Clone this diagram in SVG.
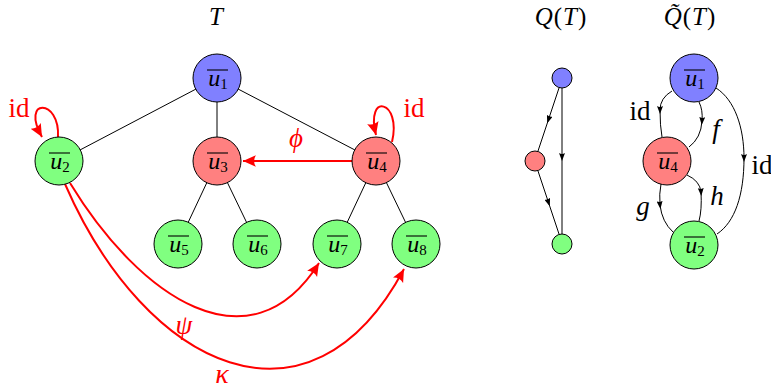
<svg xmlns="http://www.w3.org/2000/svg" width="771" height="391" viewBox="0 0 771 391" font-family="'Liberation Serif', 'DejaVu Serif', serif">
<style>
.ov{stroke:#000;stroke-width:1.1;}
.blue{fill:#8080ff;stroke:#000;stroke-width:1;}
.red{fill:#ff8080;stroke:#000;stroke-width:1;}
.green{fill:#80ff80;stroke:#000;stroke-width:1;}
.tree{stroke:#000;stroke-width:1;fill:none;}
.rarr{stroke:#ff0000;stroke-width:2;fill:none;marker-end:url(#ra);}
.qarr{stroke:#000;stroke-width:1;fill:none;marker-mid:url(#ka);}
</style>
<defs>
<marker id="ra" markerUnits="userSpaceOnUse" markerWidth="14" markerHeight="12" refX="11" refY="5" orient="auto" viewBox="0 0 12 10">
<path d="M0,0 L11,5 L0,10 Q3,5 0,0 Z" fill="#ff0000"/>
</marker>
<marker id="ka" markerUnits="userSpaceOnUse" markerWidth="8" markerHeight="6" refX="4" refY="3" orient="auto" viewBox="0 0 8 6">
<path d="M0,0 L8,3 L0,6 Q1.8,3 0,0 Z" fill="#000"/>
</marker>
</defs>

<!-- titles -->
<g font-size="25" text-anchor="middle">
<text x="216" y="25" font-style="italic">T</text>
<text x="561" y="25" letter-spacing="1"><tspan font-style="italic">Q</tspan>(<tspan font-style="italic">T</tspan>)</text>
<text x="690" y="25" letter-spacing="1"><tspan font-style="italic">Q̃</tspan>(<tspan font-style="italic">T</tspan>)</text>
</g>

<!-- connectors -->
<g id="connectors">
<line class="tree" x1="217" y1="78" x2="59" y2="161"/>
<line class="tree" x1="217" y1="78" x2="217" y2="161"/>
<line class="tree" x1="217" y1="78" x2="376" y2="161"/>
<line class="tree" x1="217" y1="161" x2="178" y2="244"/>
<line class="tree" x1="217" y1="161" x2="257" y2="244"/>
<line class="tree" x1="376" y1="161" x2="337" y2="244"/>
<line class="tree" x1="376" y1="161" x2="416" y2="244"/>
<path class="rarr" d="M353,161 L243,161"/>
<path class="rarr" d="M58,137 C60,98 20,98 42,137"/>
<path class="rarr" d="M392,142 C402,100 365,92 376,135"/>
<path class="rarr" d="M70,183 C140,298 250,372 319,263"/>
<path class="rarr" d="M65,184 C146,370 310,445 404,269"/>
<!-- Q(T) -->
<path class="qarr" d="M559,88 L548.5,119.5 L538,151"/>
<path class="qarr" d="M538,171 L548.5,202.5 L559,234"/>
<path class="qarr" d="M562,88 L562,157 L562,234"/>
<!-- Q~(T) -->
<path class="qarr" d="M672,91 Q660,98 660,110 Q660,126 662,137"/>
<path class="qarr" d="M699,102 Q703,110 702,121 Q701,138 689,147"/>
<path class="qarr" d="M687,175 Q700,181 701,192 Q702,210 699,221"/>
<path class="qarr" d="M661,184 Q659,194 660,205 Q662,222 673,232"/>
<path class="qarr" d="M716,88 C735,100 744,128 744,158 C744,195 735,222 717,234"/>
</g>

<!-- edge labels -->
<g font-size="27" text-anchor="middle" fill="#ff0000">
<text x="19" y="117">id</text>
<text x="414" y="117">id</text>
<text x="296" y="147" font-style="italic" font-size="27">ϕ</text>
<text x="184" y="334" font-style="italic" font-size="27">ψ</text>
<text x="222" y="383" font-style="italic" font-size="28">κ</text>
</g>
<g font-size="27" text-anchor="middle" fill="#000">
<text x="640" y="120">id</text>
<text x="716" y="138" font-style="italic">f</text>
<text x="717" y="205" font-style="italic">h</text>
<text x="643" y="215" font-style="italic">g</text>
<text x="762" y="174">id</text>
</g>

<!-- nodes -->
<g font-size="24" text-anchor="middle">
<g id="t-u1"><circle class="blue" cx="217" cy="78" r="24"/><line class="ov" x1="207" y1="70" x2="228" y2="70"/><text x="218" y="86"><tspan font-style="italic">u</tspan><tspan font-size="15" dy="3">1</tspan></text></g>
<g id="t-u2"><circle class="green" cx="59" cy="161" r="24"/><line class="ov" x1="49" y1="153" x2="70" y2="153"/><text x="60" y="169"><tspan font-style="italic">u</tspan><tspan font-size="15" dy="3">2</tspan></text></g>
<g id="t-u3"><circle class="red" cx="217" cy="161" r="24"/><line class="ov" x1="207" y1="153" x2="228" y2="153"/><text x="218" y="169"><tspan font-style="italic">u</tspan><tspan font-size="15" dy="3">3</tspan></text></g>
<g id="t-u4"><circle class="red" cx="376" cy="161" r="24"/><line class="ov" x1="366" y1="153" x2="387" y2="153"/><text x="377" y="169"><tspan font-style="italic">u</tspan><tspan font-size="15" dy="3">4</tspan></text></g>
<g id="t-u5"><circle class="green" cx="178" cy="244" r="24"/><line class="ov" x1="168" y1="236" x2="189" y2="236"/><text x="179" y="252"><tspan font-style="italic">u</tspan><tspan font-size="15" dy="3">5</tspan></text></g>
<g id="t-u6"><circle class="green" cx="257" cy="244" r="24"/><line class="ov" x1="247" y1="236" x2="268" y2="236"/><text x="258" y="252"><tspan font-style="italic">u</tspan><tspan font-size="15" dy="3">6</tspan></text></g>
<g id="t-u7"><circle class="green" cx="337" cy="244" r="24"/><line class="ov" x1="327" y1="236" x2="348" y2="236"/><text x="338" y="252"><tspan font-style="italic">u</tspan><tspan font-size="15" dy="3">7</tspan></text></g>
<g id="t-u8"><circle class="green" cx="416" cy="244" r="24"/><line class="ov" x1="406" y1="236" x2="427" y2="236"/><text x="417" y="252"><tspan font-style="italic">u</tspan><tspan font-size="15" dy="3">8</tspan></text></g>

<g id="q-top"><circle class="blue" cx="562" cy="78" r="10"/></g>
<g id="q-mid"><circle class="red" cx="535" cy="161" r="10"/></g>
<g id="q-bot"><circle class="green" cx="562" cy="244" r="10"/></g>

<g id="qt-u1"><circle class="blue" cx="694" cy="78" r="24"/><line class="ov" x1="684" y1="70" x2="705" y2="70"/><text x="695" y="86"><tspan font-style="italic">u</tspan><tspan font-size="15" dy="3">1</tspan></text></g>
<g id="qt-u4"><circle class="red" cx="667" cy="161" r="24"/><line class="ov" x1="657" y1="153" x2="678" y2="153"/><text x="668" y="169"><tspan font-style="italic">u</tspan><tspan font-size="15" dy="3">4</tspan></text></g>
<g id="qt-u2"><circle class="green" cx="694" cy="245" r="24"/><line class="ov" x1="684" y1="237" x2="705" y2="237"/><text x="695" y="253"><tspan font-style="italic">u</tspan><tspan font-size="15" dy="3">2</tspan></text></g>
</g>
</svg>
